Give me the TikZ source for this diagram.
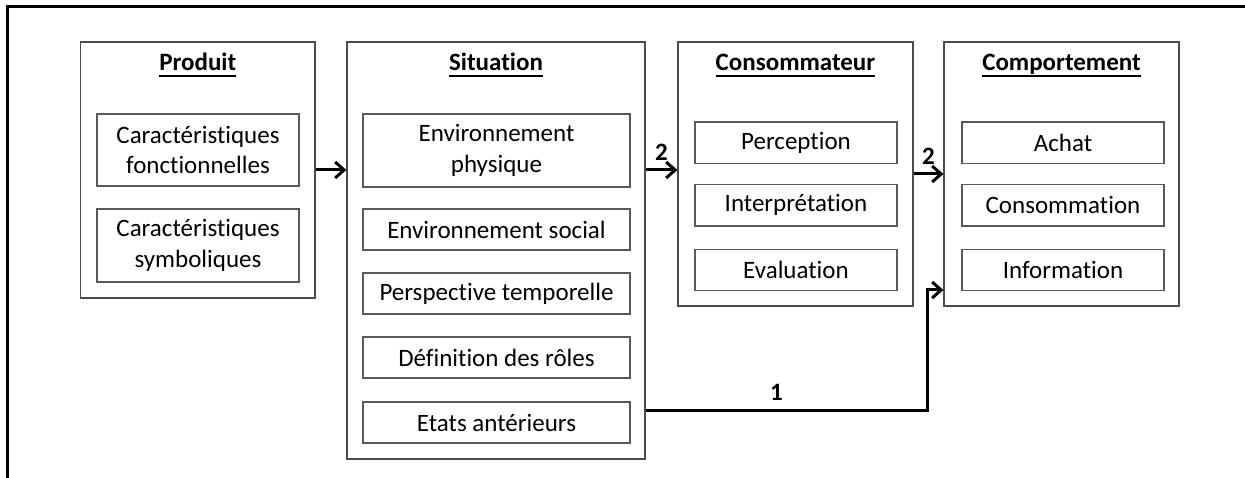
\documentclass[tikz,border=0pt]{standalone}
\usepackage{fontspec}
\setmainfont{Carlito}[Ligatures=NoCommon]
\usetikzlibrary{arrows.meta}
\newcommand{\souligne}[1]{\setbox0\hbox{#1}\rlap{\rule[-6pt]{\wd0}{1.8pt}}\box0}
\begin{document}
\begin{tikzpicture}[
	x=1pt, y=-1pt,
	every node/.style={font=\fontsize{25}{30.5}\selectfont},
	bigbox/.style={shape=rectangle, draw=black!70, line width=1.2pt, inner sep=0pt},
	smallbox/.style={shape=rectangle, draw=black!65, line width=1.2pt, inner sep=0pt, align=center},
	headnode/.style={font=\fontsize{25}{30.5}\selectfont\bfseries, anchor=base},
	numnode/.style={font=\fontsize{25}{30.5}\selectfont\bfseries, inner sep=0pt},
	arr/.style={line width=3pt, -{Straight Barb[length=9pt,width=16pt]}},
]
\useasboundingbox (0,0) rectangle (1245,478);
\draw[line width=3pt] (7,478) -- (7,7) -- (1245,7);

% Produit
\node[bigbox, minimum width=234.5pt, minimum height=256pt] (prod) at (197.75,170) {};
\node[headnode] (prodT) at (197.75,71) {\souligne{Produit}};
\node[smallbox, minimum width=202pt, minimum height=72pt] (prodA) at (198,150) {Caractéristiques\\fonctionnelles};
\node[smallbox, minimum width=202pt, minimum height=73pt] (prodB) at (198,245.5) {Caractéristiques\\symboliques};

% Situation
\node[bigbox, minimum width=298pt, minimum height=417pt] (sit) at (496,250.5) {};
\node[headnode] (sitT) at (496,71) {\souligne{Situation}};
\node[smallbox, minimum width=267pt, minimum height=73pt] (sitA) at (496.5,150.5) {Environnement\\physique};
\node[smallbox, minimum width=267pt, minimum height=41pt] (sitB) at (496.5,229.5) {Environnement social};
\node[smallbox, minimum width=267pt, minimum height=41pt] (sitC) at (496.5,293.5) {Perspective temporelle};
\node[smallbox, minimum width=267pt, minimum height=41pt] (sitD) at (496.5,357.5) {Définition des rôles};
\node[smallbox, minimum width=267pt, minimum height=41pt] (sitE) at (496.5,422.5) {Etats antérieurs};

% Consommateur
\node[bigbox, minimum width=235pt, minimum height=264pt] (cons) at (795.5,174) {};
\node[headnode] (consT) at (795.5,71) {\souligne{Consommateur}};
\node[smallbox, minimum width=202pt, minimum height=41.5pt] (consA) at (796,142.75) {Perception};
\node[smallbox, minimum width=202pt, minimum height=41.5pt] (consB) at (796,205.25) {Interprétation};
\node[smallbox, minimum width=202pt, minimum height=41.5pt] (consC) at (796,270) {Evaluation};

% Comportement
\node[bigbox, minimum width=235pt, minimum height=264pt] (comp) at (1061.5,174) {};
\node[headnode] (compT) at (1061.5,71) {\souligne{Comportement}};
\node[smallbox, minimum width=202pt, minimum height=41.5pt] (compA) at (1063,142.75) {Achat};
\node[smallbox, minimum width=202pt, minimum height=41.5pt] (compB) at (1063,205.25) {Consommation};
\node[smallbox, minimum width=202pt, minimum height=41.5pt] (compC) at (1063,270) {Information};

% liens
\draw[arr] (prod.east) -- (prod.east -| sit.west);
\draw[arr] (sit.east |- prod.east) -- node[numnode, above=8pt] {2} (cons.west |- prod.east);
\draw[arr] (cons.east) -- node[numnode, above=8pt] {2} (comp.west);
\coordinate (bendA) at (927,410);
\coordinate (bendB) at (927,290);
\draw[arr] (bendA -| sit.east) -- node[numnode, above=8pt, pos=0.465] {1} (bendA) -- (bendB) -- (bendB -| comp.west);
\end{tikzpicture}
\end{document}
